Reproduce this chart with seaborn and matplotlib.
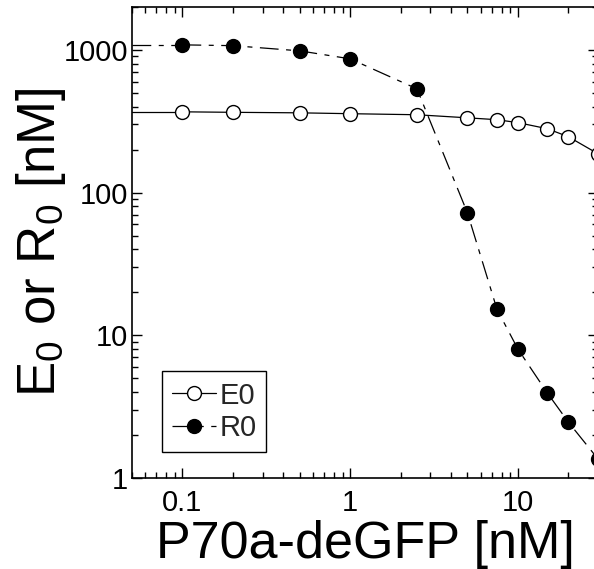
import matplotlib
matplotlib.use("Agg")
import matplotlib.pyplot as plt
import seaborn as sns
import pandas as pd
from matplotlib.ticker import LogLocator, NullFormatter, FixedLocator, FixedFormatter

# P70a-deGFP concentration [nM]
conc = [0.1, 0.2, 0.5, 1, 2.5, 5, 7.5, 10, 15, 20, 30]
# E0 and R0 [nM]
e0 = [368, 365, 362, 357, 351, 334, 324, 309, 280, 246, 187]
r0 = [1084, 1070, 984, 865, 533, 72, 15.2, 8.0, 3.93, 2.46, 1.36]

x_ticks = [0.1, 1, 10]
x_tick_labels = ["0.1", "1", "10"]
y_ticks = [1, 10, 100, 1000]
y_tick_labels = ["1", "10", "100", "1000"]

sns.set_theme(style="ticks")
plt.rcParams["font.family"] = ["Liberation Sans", "DejaVu Sans"]
plt.rcParams["mathtext.default"] = "regular"

df = pd.DataFrame({"conc": conc, "E0": e0, "R0": r0})

fig = plt.figure(figsize=(5.94, 5.69), dpi=100)
ax = fig.add_axes([0.2222, 0.1599, 0.7845, 0.828])
ax.set_xscale("log")
ax.set_yscale("log")
xmin, xmax = 0.05, 30
ax.set_xlim(xmin, xmax)
ax.set_ylim(1, 2000)

lw = 0.9
r_dash = (0, (15, 6, 4, 6))
e_style = dict(color="black", linewidth=lw, marker="o", markersize=10,
               markerfacecolor="white", markeredgecolor="black", markeredgewidth=1.0)
r_style = dict(color="black", linewidth=lw, marker="o", markersize=10,
               markerfacecolor="black", markeredgecolor="black", markeredgewidth=1.0)

sns.lineplot(data=df, x="conc", y="E0", ax=ax, label="E0", **e_style)
sns.lineplot(data=df, x="conc", y="R0", ax=ax, label="R0",
             linestyle=r_dash, **r_style)

# lines continue flat toward the low-concentration edge
ax.plot([xmin, conc[0]], [e0[0], e0[0]], color="black", linewidth=lw, zorder=1)
ax.plot([xmin, conc[0]], [r0[0], r0[0]], color="black", linewidth=lw,
        linestyle=r_dash, zorder=1)

ax.xaxis.set_major_locator(FixedLocator(x_ticks))
ax.xaxis.set_major_formatter(FixedFormatter(x_tick_labels))
ax.yaxis.set_major_locator(FixedLocator(y_ticks))
ax.yaxis.set_major_formatter(FixedFormatter(y_tick_labels))
ax.xaxis.set_minor_locator(LogLocator(base=10, subs=range(2, 10)))
ax.yaxis.set_minor_locator(LogLocator(base=10, subs=range(2, 10)))
ax.xaxis.set_minor_formatter(NullFormatter())
ax.yaxis.set_minor_formatter(NullFormatter())

ax.tick_params(which="both", direction="in", top=True, right=True,
               colors="black", width=1.0, labelsize=21)
ax.tick_params(which="major", length=7)
ax.tick_params(which="minor", length=4)
ax.tick_params(axis="x", which="major", pad=8)
ax.tick_params(axis="y", which="major", pad=3)
for s in ax.spines.values():
    s.set_color("black")
    s.set_linewidth(1.2)

ax.set_xlabel("P70a-deGFP [nM]", fontsize=37.5, color="black", labelpad=2)
ax.set_ylabel(r"E$_0$ or R$_0$ [nM]", fontsize=38, color="black")
ax.yaxis.set_label_coords(-0.137, 0.5)

leg = ax.legend(loc="lower left", bbox_to_anchor=(0.065, 0.055), borderaxespad=0,
                fontsize=21, frameon=True, fancybox=False, framealpha=1,
                edgecolor="black", handlelength=1.5, handletextpad=0.1,
                borderpad=0.35, labelspacing=0.15)
leg.get_frame().set_linewidth(1.0)

fig.savefig("out.png", dpi=100)
